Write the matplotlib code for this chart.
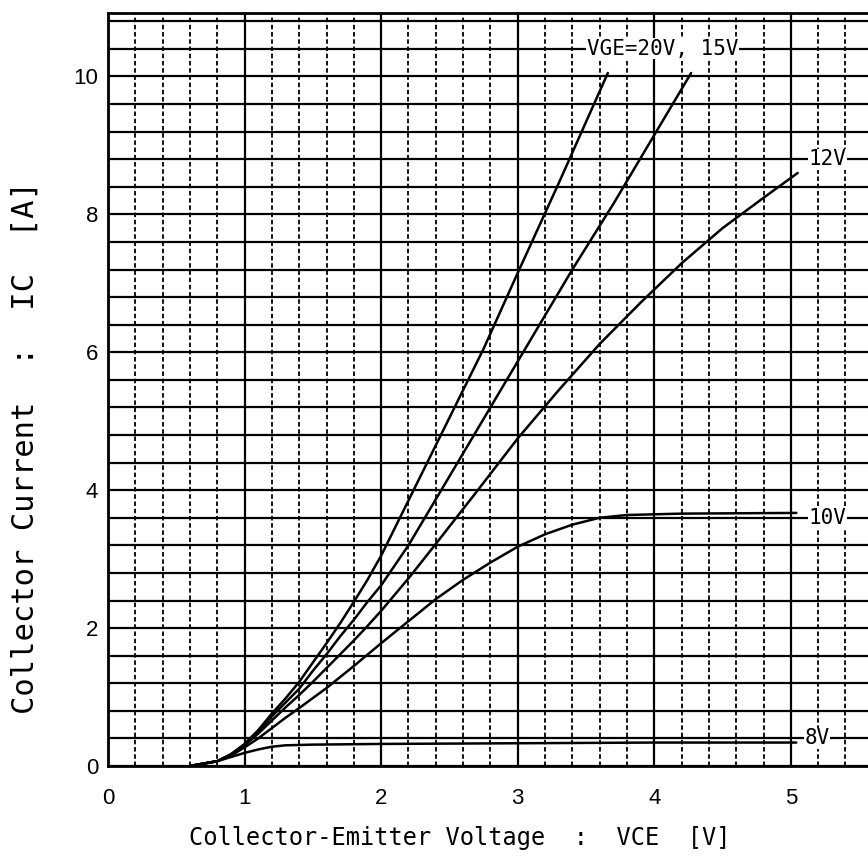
import numpy as np
import matplotlib
matplotlib.use("Agg")
import matplotlib.pyplot as plt
from matplotlib.ticker import MultipleLocator

# ---- data ----
vce_20 = [0.6, 0.8, 0.9, 1.0, 1.1, 1.2, 1.3, 1.4, 1.5, 1.6, 1.7, 1.8, 1.9, 2.0, 2.25, 2.5, 2.75, 3.0, 3.3, 3.66]
ic_20 = [0.0, 0.07, 0.17, 0.32, 0.52, 0.76, 0.98, 1.22, 1.5, 1.78, 2.07, 2.38, 2.7, 3.05, 4.05, 5.05, 6.05, 7.15, 8.45, 10.05]

vce_15 = [0.6, 0.8, 0.9, 1.0, 1.1, 1.2, 1.3, 1.4, 1.5, 1.6, 1.7, 1.8, 1.9, 2.0, 2.2, 2.5, 2.8, 3.1, 3.4, 3.7, 4.0, 4.27]
ic_15 = [0.0, 0.07, 0.17, 0.31, 0.5, 0.72, 0.92, 1.12, 1.38, 1.62, 1.88, 2.12, 2.38, 2.62, 3.2, 4.2, 5.2, 6.2, 7.2, 8.15, 9.15, 10.05]

vce_12 = [0.6, 0.8, 0.9, 1.0, 1.1, 1.2, 1.3, 1.4, 1.5, 1.6, 1.7, 1.8, 1.9, 2.0, 2.2, 2.4, 2.7, 3.0, 3.3, 3.6, 3.9, 4.2, 4.5, 4.8, 5.05]
ic_12 = [0.0, 0.07, 0.16, 0.3, 0.47, 0.66, 0.85, 1.03, 1.22, 1.42, 1.62, 1.82, 2.03, 2.25, 2.72, 3.22, 3.98, 4.75, 5.45, 6.12, 6.72, 7.29, 7.8, 8.24, 8.6]

vce_10 = [0.6, 0.8, 0.9, 1.0, 1.1, 1.2, 1.3, 1.4, 1.6, 1.8, 2.0, 2.2, 2.4, 2.6, 2.8, 3.0, 3.2, 3.4, 3.6, 3.8, 4.2, 5.04]
ic_10 = [0.0, 0.07, 0.15, 0.27, 0.4, 0.55, 0.7, 0.84, 1.13, 1.45, 1.78, 2.1, 2.42, 2.7, 2.95, 3.18, 3.36, 3.5, 3.6, 3.64, 3.66, 3.67]

vce_8 = [0.6, 0.8, 0.9, 1.0, 1.1, 1.2, 1.3, 1.5, 2.0, 3.0, 4.0, 5.04]
ic_8 = [0.0, 0.07, 0.13, 0.19, 0.24, 0.28, 0.3, 0.31, 0.32, 0.33, 0.34, 0.34]

labels = ["VGE=20V, 15V", "12V", "10V", "8V"]
label_x = [4.06, 5.27, 5.27, 5.19]
label_y = [10.4, 8.8, 3.6, 0.4]

x_ticks = [0, 1, 2, 3, 4, 5]
y_ticks = [0, 2, 4, 6, 8, 10]

fig = plt.figure(figsize=(8.68, 8.60), dpi=100)
W, H = 868, 860
x0px, x1px = 108, 868
y0px, y1px = 766, 13
ax = fig.add_axes([x0px / W, (H - y0px) / H, (x1px - x0px) / W, (y0px - y1px) / H])
ax.set_xlim(0, 5.565)
ax.set_ylim(0, 10.92)

ax.xaxis.set_major_locator(MultipleLocator(1))
ax.xaxis.set_minor_locator(MultipleLocator(0.2))
ax.yaxis.set_major_locator(MultipleLocator(2))
ax.yaxis.set_minor_locator(MultipleLocator(0.4))
ax.set_xticks(x_ticks)
ax.set_yticks(y_ticks)
ax.set_xticklabels([str(v) for v in x_ticks])
ax.set_yticklabels([str(v) for v in y_ticks])

ax.grid(True, which="major", axis="x", color="black", lw=1.6, ls="-")
ax.grid(True, which="minor", axis="x", color="black", lw=1.3, ls=(0, (2.5, 1.5)))
ax.grid(True, which="both", axis="y", color="black", lw=1.6, ls="-")
ax.set_axisbelow(True)

for s in ["left", "bottom", "top"]:
    ax.spines[s].set_linewidth(2.0)
ax.spines["right"].set_visible(False)

ax.tick_params(which="both", length=0)
ax.tick_params(axis="x", pad=16, labelsize=16)
ax.tick_params(axis="y", pad=7, labelsize=16)
for t in ax.get_xticklabels() + ax.get_yticklabels():
    t.set_family("Liberation Sans")

for vx, iy in [(vce_20, ic_20), (vce_15, ic_15), (vce_12, ic_12), (vce_10, ic_10), (vce_8, ic_8)]:
    ax.plot(vx, iy, color="black", lw=1.8, solid_capstyle="round", solid_joinstyle="round", zorder=3)

for txt, lx, ly in zip(labels, label_x, label_y):
    ax.text(lx, ly, txt, ha="center", va="center", fontsize=15, family="DejaVu Sans Mono",
            bbox=dict(facecolor="white", edgecolor="none", pad=0.5), zorder=4)

ax.set_xlabel("Collector-Emitter Voltage  :  VCE  [V]", family="DejaVu Sans Mono", fontsize=17)
ax.xaxis.set_label_coords((460 - x0px) / (x1px - x0px), -(826 - y0px) / (y0px - y1px))
ax.set_ylabel("Collector Current  :  IC  [A]", family="DejaVu Sans Mono", fontsize=22)
ax.yaxis.set_label_coords(-(x0px - 40) / (x1px - x0px), (y0px - 448) / (y0px - y1px))

fig.savefig("out.png", dpi=100)
